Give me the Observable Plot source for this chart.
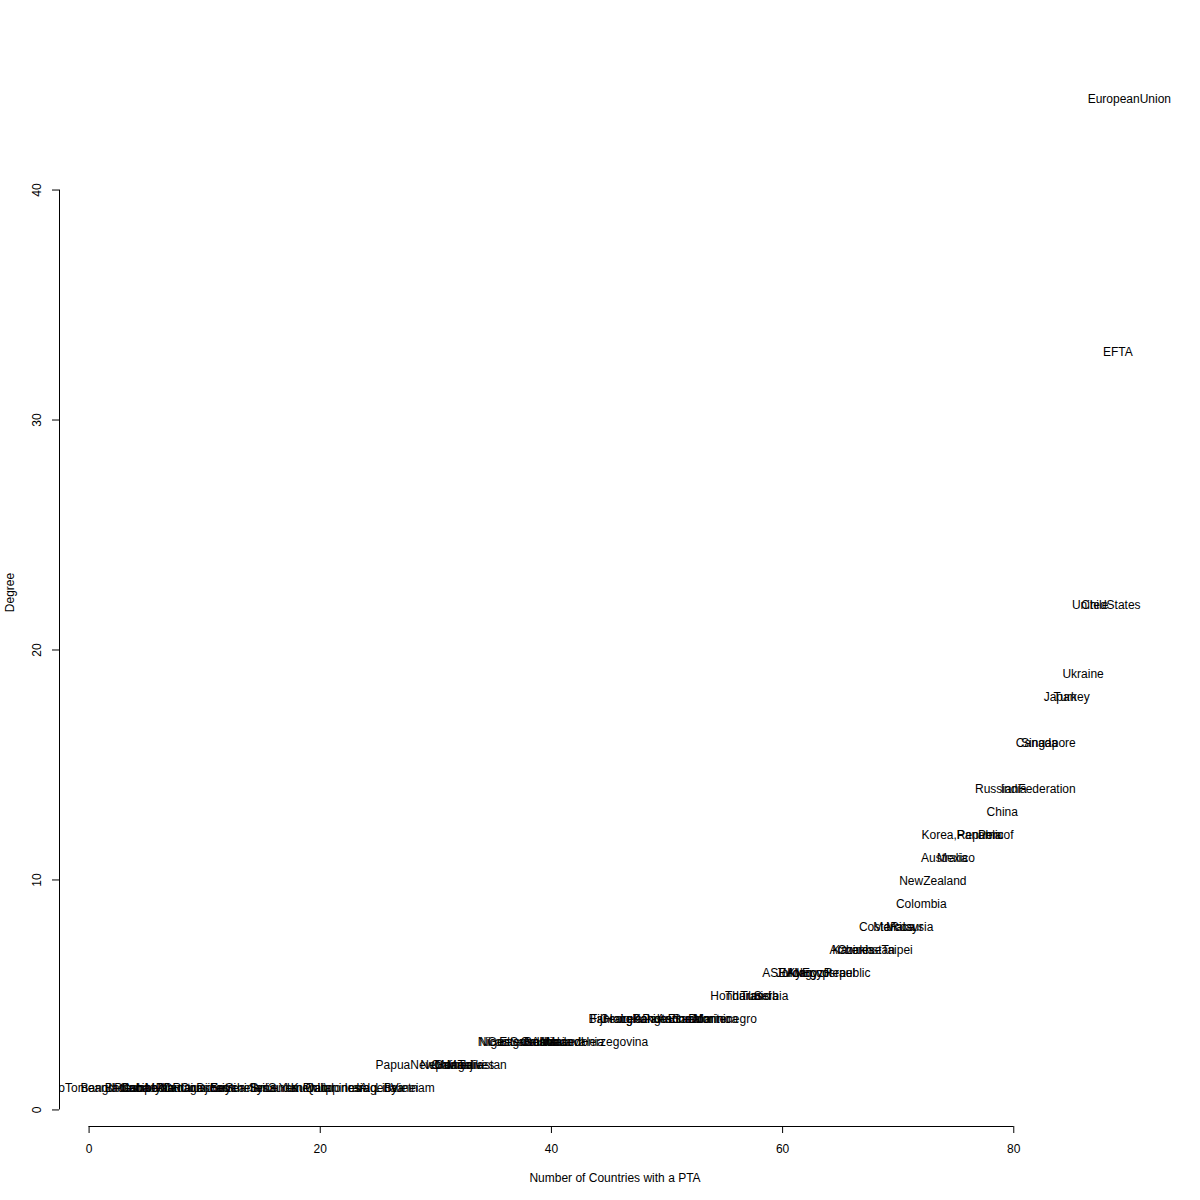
<!DOCTYPE html>
<html><head><meta charset="utf-8">
<script src="https://cdn.jsdelivr.net/npm/d3@7"></script>
<script src="https://cdn.jsdelivr.net/npm/@observablehq/plot@0.6"></script>
<style>body{margin:0;background:#fff}</style>
</head><body><div id="chart"></div>
<script>
const countries = [
 "SaoTomeandPrincipe","Bangladesh","Bhutan","Cuba","Cambodia","LaoPDR","Myanmar","Mauritius","Madagascar","Comoros",
 "Djibouti","Eritrea","Seychelles","Suriname","Syria","SriLanka","Sudan","Yemen","Kuwait","Qatar",
 "Philippines","Indonesia","Iran","Iraq","Algeria","Libya","Brunei","Vietnam",
 "PapuaNewGuinea","Nepal","Oman","Mongolia","Maldives","Tajikistan",
 "Niger","Nicaragua","Guatemala","ElSalvador","Croatia","Albania","Moldova","Macedonia","BosniaandHerzegovina",
 "Fiji","Bahrain","Georgia","HongKong","Lebanon","Pakistan","Palestine","Andorra","Ecuador","SanMarino","Dominica","Montenegro",
 "Honduras","Thailand","Tunisia","Serbia",
 "ASEAN","Jordan","Morocco","Egypt","KyrgyzRepublic","Israel",
 "Armenia","Kazakhstan","ChineseTaipei",
 "CostaRica","Mercosur","Malaysia",
 "Colombia","NewZealand","Australia","Mexico",
 "Korea,Republicof","Panama","Peru","China","India","RussianFederation",
 "Canada","Singapore","Japan","Turkey","Ukraine","Chile","UnitedStates","EFTA","EuropeanUnion"
];
const rank = [
 1,2,3,4,5,6,7,8,9,10,11,12,13,14,15,16,17,18,19,20,21,22,23,24,25,26,27,28,
 29,30,31,32,33,34,
 35,36,37,38,39,40,41,42,43,
 44,45,46,47,48,49,50,51,52,53,54,55,
 56,57,58,59,
 60,61,62,63,64,65,
 66,67,68,
 69,70,71,
 72,73,74,75,
 76,77,78,79,80,81,
 82,83,84,85,86,87,88,89,90
];
const degree = [
 1,1,1,1,1,1,1,1,1,1,1,1,1,1,1,1,1,1,1,1,1,1,1,1,1,1,1,1,
 2,2,2,2,2,2,
 3,3,3,3,3,3,3,3,3,
 4,4,4,4,4,4,4,4,4,4,4,4,
 5,5,5,5,
 6,6,6,6,6,6,
 7,7,7,
 8,8,8,
 9,10,11,11,
 12,12,12,13,14,14,
 16,16,18,18,19,22,22,33,44
];
const xTicks = [0,20,40,60,80];
const yTicks = [0,10,20,30,40];
const xTitle = "Number of Countries with a PTA";
const yTitle = "Degree";

const data = countries.map((c,i)=>({name:c, x:rank[i], y:degree[i]}));
const xr = d3.extent(rank), yr = d3.extent(degree);
const xDomain = [xr[0]-0.04*(xr[1]-xr[0]), xr[1]+0.04*(xr[1]-xr[0])];
const yDomain = [yr[0]-0.04*(yr[1]-yr[0]), yr[1]+0.04*(yr[1]-yr[0])];
const leftLabels = data.filter(d => d.x < 10);
const otherLabels = data.filter(d => d.x >= 10);

const chart = Plot.plot({
  width:1200, height:1200,
  marginLeft:59, marginRight:30, marginTop:58, marginBottom:74,
  style:{fontFamily:"'Liberation Sans', Arial, sans-serif", fontSize:"12px", background:"white", color:"black"},
  x:{domain:xDomain, axis:null},
  y:{domain:yDomain, axis:null},
  marks:[
    Plot.ruleX([xDomain[0]], {y1:yTicks[0], y2:yTicks[yTicks.length-1], stroke:"black"}),
    Plot.ruleY([yDomain[0]], {x1:xTicks[0], x2:xTicks[xTicks.length-1], stroke:"black"}),
    Plot.axisY({ticks:yTicks, tickSize:7, tickFormat:()=>"", label:null, stroke:"black"}),
    Plot.axisX({ticks:xTicks, tickSize:7, tickPadding:11, label:null, stroke:"black", fill:"black", fontSize:12}),
    Plot.text(yTicks, {y:d=>d, frameAnchor:"left", dx:-22, rotate:-90, textAnchor:"middle", lineAnchor:"middle", text:d=>String(d), fill:"black", fontSize:12}),
    Plot.text([xTitle], {frameAnchor:"bottom", dy:52, textAnchor:"middle", lineAnchor:"middle", text:d=>d, fill:"black", fontSize:12}),
    Plot.text([yTitle], {frameAnchor:"left", dx:-49, rotate:-90, textAnchor:"middle", lineAnchor:"middle", text:d=>d, fill:"black", fontSize:12}),
    Plot.text(leftLabels, {x:"x", y:"y", dy:1, text:"name", fill:"black", fontSize:12, clip:true}),
    Plot.text(otherLabels, {x:"x", y:"y", dy:1, text:"name", fill:"black", fontSize:12})
  ]
});
document.getElementById("chart").appendChild(chart);
</script>
</body></html>
